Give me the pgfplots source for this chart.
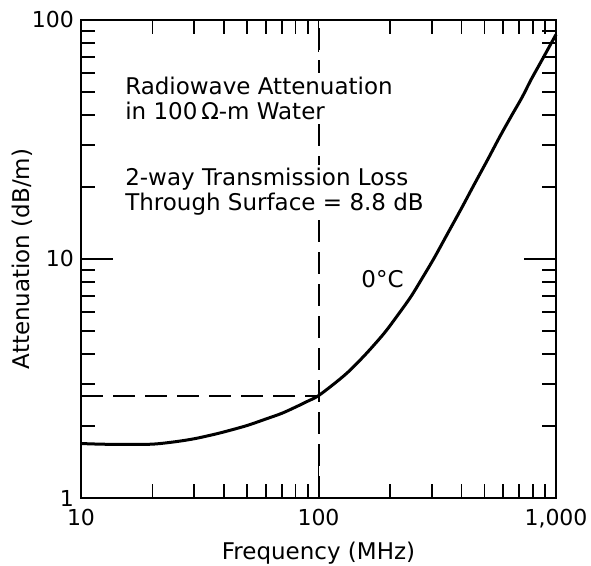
\documentclass[border=0pt]{standalone}
\usepackage{pgfplots}
\pgfplotsset{compat=1.18}
\usepackage{fontspec}
\setmainfont{DejaVu Sans}
\begin{document}
\begin{tikzpicture}
\useasboundingbox (0,0) rectangle (295.5pt,283pt);
\begin{axis}[
  at={(40.5pt,34pt)}, anchor=south west,
  scale only axis, width=237.5pt, height=239pt,
  xmode=log, ymode=log,
  xmin=10, xmax=1000, ymin=1, ymax=100,
  xtick={10,100,1000}, xticklabels={10,100,{1,000}},
  ytick={1,10,100}, yticklabels={1,10,100},
  tick align=inside,
  major tick length=16pt, minor tick length=7pt,
  axis line style={line width=1.2pt},
  every tick/.style={black, line width=0.9pt},
  tick label style={font=\fontsize{11}{13}\selectfont},
  /pgf/number format/assume math mode=true,
  xticklabel style={yshift=-2pt},
  xlabel={Frequency (MHz)},
  ylabel={Attenuation (dB/m)},
  every axis x label/.style={at={(axis description cs:0.5,-0.1155)}, anchor=center, font=\fontsize{11.5}{13}\selectfont},
  every axis y label/.style={at={(axis description cs:-0.1242,0.5)}, anchor=center, rotate=90, font=\fontsize{11.5}{13}\selectfont},
  clip=false,
]
\addplot[black, line width=1.5pt, smooth, tension=0.5] coordinates {
  (10,1.69) (12,1.68) (15,1.675) (20,1.68) (25,1.72) (30,1.77) (35,1.83)
  (40,1.89) (50,2.01) (60,2.14) (70,2.26) (80,2.40) (90,2.54) (100,2.68)
  (120,3.08) (136,3.43) (160,4.05) (189,4.89) (215,5.8) (245,6.96)
  (275,8.4) (307,10.1) (350,12.8) (400,16.3) (450,20.3) (515,26.0)
  (580,32.5) (650,39.8) (720,47.5) (784,56.1) (880,69) (1000,87)
};
\addplot[black, line width=1pt, dash pattern=on 11pt off 5pt] coordinates {(10,2.67) (100,2.67)};
\addplot[black, line width=1pt, dash pattern=on 11pt off 5pt] coordinates {(100,1) (100,100)};
\node[anchor=north west, inner sep=2pt, xshift=-2pt, yshift=2pt, fill=white, align=left, font=\fontsize{11.5}{12.5}\selectfont]
  at (axis cs:15.3,58) {Radiowave Attenuation\\in 100\,Ω-m Water};
\node[anchor=north west, inner sep=2pt, xshift=-2pt, yshift=2pt, fill=white, align=left, font=\fontsize{11.5}{12.5}\selectfont]
  at (axis cs:15.3,24) {2-way Transmission Loss\\Through Surface = 8.8 dB};
\node[anchor=center, inner sep=0pt, font=\fontsize{11.5}{13}\selectfont]
  at (axis cs:186,8.25) {0°C};
\end{axis}
\end{tikzpicture}
\end{document}
